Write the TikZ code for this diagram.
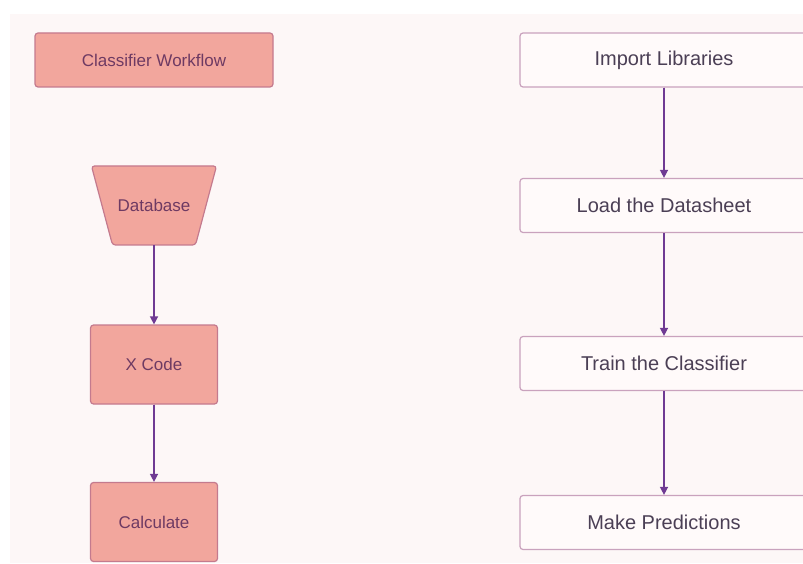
\documentclass[tikz,border=0pt]{standalone}
\usepackage{fontspec}
\setmainfont{Liberation Sans}
\usetikzlibrary{arrows.meta}
\definecolor{salmon}{HTML}{F2A69D}
\definecolor{edgepink}{HTML}{C47A8E}
\definecolor{plum}{HTML}{6E3A63}
\definecolor{lilac}{HTML}{C9A2BD}
\definecolor{paper}{HTML}{FFFAFA}
\definecolor{ink}{HTML}{4B3F55}
\definecolor{arrowviolet}{HTML}{6F3A93}
\definecolor{bgpink}{HTML}{FDF7F7}
\begin{document}
\begin{tikzpicture}[x=1pt, y=1pt, >={Triangle[length=8pt,width=8pt]},
  pinkfill/.style={draw=edgepink, fill=salmon, line width=1.2pt, rounded corners=3pt},
  pinkbox/.style={pinkfill, text=plum, font=\fontsize{17}{20}\selectfont},
  stepbox/.style={draw=lilac, fill=paper, line width=1.2pt, rounded corners=3pt,
    text=ink, minimum width=288pt, minimum height=54pt, font=\fontsize{20}{24}\selectfont},
  flow/.style={->, line width=1.4pt, draw=arrowviolet, fill=arrowviolet}]
  \useasboundingbox (0,0) rectangle (803,563);
  \fill[bgpink] (10,0) rectangle (803,549);

  % left column
  \node[pinkbox, minimum width=238pt, minimum height=54pt] (wf) at (154,503) {Classifier Workflow};
  \draw[pinkfill] (91.5,397) -- (216.5,397) -- (195.5,318) -- (112.5,318) -- cycle;
  \node[text=plum, font=\fontsize{17}{20}\selectfont, minimum height=79pt] (db) at (154,357.5) {Database};
  \node[pinkbox, minimum width=127pt, minimum height=79pt] (xc) at (154,198.5) {X Code};
  \node[pinkbox, minimum width=127pt, minimum height=79pt] (calc) at (154,41) {Calculate};

  \draw[flow] (db) -- (xc);
  \draw[flow] (xc) -- (calc);

  % right column
  \node[stepbox] (imp) at (664,503) {Import Libraries};
  \node[stepbox] (load) at (664,357.5) {Load the Datasheet};
  \node[stepbox] (train) at (664,199.5) {Train the Classifier};
  \node[stepbox] (pred) at (664,40.5) {Make Predictions};

  \draw[flow] (imp) -- (load);
  \draw[flow] (load) -- (train);
  \draw[flow] (train) -- (pred);
\end{tikzpicture}
\end{document}
